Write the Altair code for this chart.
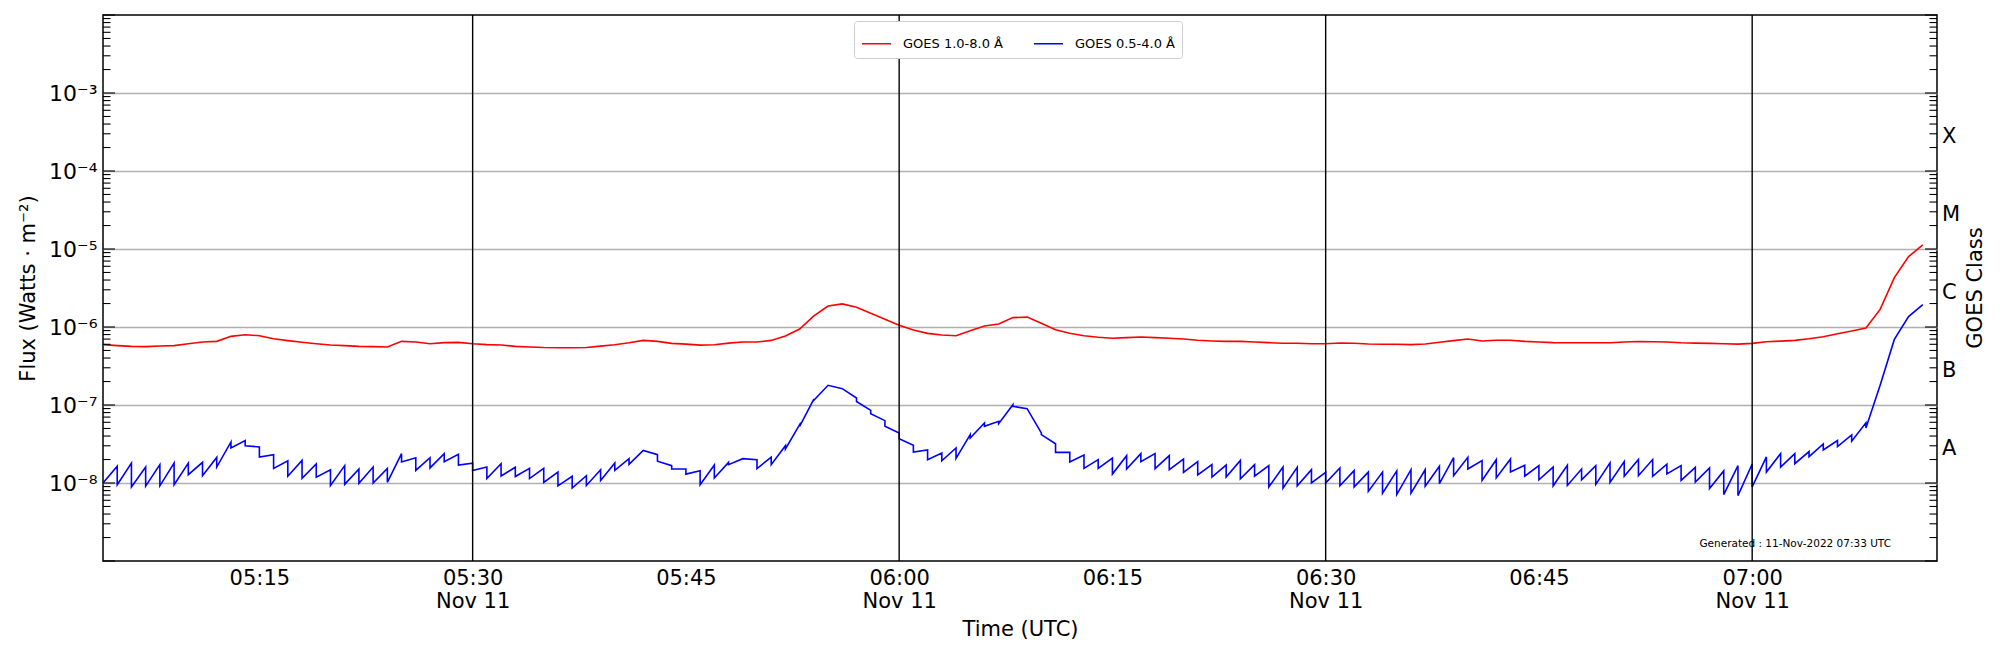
import altair as alt
import pandas as pd

# ---------------- data ----------------
START = "2022-11-11T05:04:00Z"          # first sample, 1-minute cadence

# GOES 1.0-8.0 A flux, units of 1e-7 W/m^2, 05:04 .. 07:12
long_flux_e7 = [
    5.94, 5.77, 5.65, 5.60, 5.71, 5.77, 6.11, 6.43, 6.55, 7.59,
    7.97, 7.74, 7.08, 6.68, 6.36, 6.11, 5.88, 5.77, 5.65, 5.60,
    5.55, 6.55, 6.43, 6.11, 6.30, 6.36, 6.11, 5.94, 5.88, 5.65,
    5.55, 5.45, 5.42, 5.42, 5.47, 5.69, 5.93, 6.28, 6.73, 6.54,
    6.16, 6.04, 5.86, 5.93, 6.22, 6.41, 6.41, 6.73, 7.66, 9.42,
    13.9, 18.6, 19.8, 17.9, 15.0, 12.6, 10.5, 9.14, 8.28, 7.89,
    7.73, 8.97, 10.3, 10.9, 13.2, 13.4, 11.2, 9.24, 8.30, 7.74,
    7.38, 7.16, 7.30, 7.45, 7.30, 7.16, 7.02, 6.75, 6.62, 6.55,
    6.55, 6.43, 6.30, 6.18, 6.18, 6.11, 6.11, 6.24, 6.18, 6.05,
    6.00, 6.00, 5.94, 6.05, 6.36, 6.68, 7.02, 6.62, 6.75, 6.75,
    6.55, 6.43, 6.30, 6.28, 6.28, 6.28, 6.28, 6.41, 6.53, 6.47,
    6.41, 6.28, 6.22, 6.16, 6.10, 6.04, 6.16, 6.47, 6.60, 6.73,
    7.06, 7.49, 8.20, 8.87, 9.69, 16.8, 43.0, 79.8, 112.7,
]

# GOES 0.5-4.0 A flux, units of 1e-8 W/m^2: value reached at each minute
# (top of the saw tooth) and value right after the step down
short_hi_e8 = [
    1.00, 1.64, 1.80, 1.60, 1.72, 1.80, 1.80, 1.84, 2.13, 3.36,
    3.49, 2.90, 2.31, 1.93, 1.95, 1.75, 1.48, 1.67, 1.51, 1.60,
    1.54, 2.38, 2.11, 2.11, 2.38, 2.33, 1.80, 1.60, 1.77, 1.59,
    1.54, 1.54, 1.38, 1.22, 1.24, 1.48, 1.80, 2.05, 2.62, 2.31,
    1.67, 1.51, 1.44, 1.70, 1.84, 2.05, 1.99, 2.15, 3.01, 5.60,
    11.9, 17.9, 16.2, 12.3, 8.54, 6.30, 4.38, 3.04, 2.65, 2.43,
    2.81, 4.17, 5.88, 6.18, 10.1, 8.97, 4.38, 3.19, 2.47, 2.29,
    1.99, 2.09, 2.24, 2.38, 2.38, 2.24, 2.03, 1.88, 1.72, 1.70,
    1.95, 1.72, 1.67, 1.60, 1.59, 1.48, 1.37, 1.56, 1.44, 1.38,
    1.38, 1.43, 1.48, 1.48, 1.64, 2.11, 2.14, 1.94, 1.99, 2.03,
    1.69, 1.67, 1.60, 1.69, 1.51, 1.67, 1.81, 1.88, 2.00, 2.00,
    1.74, 1.67, 1.59, 1.56, 1.43, 1.67, 1.75, 2.16, 2.38, 2.38,
    2.53, 3.17, 3.50, 4.13, 5.90, 17.9, 69.3, 136.0, 193.0,
]
short_lo_e8 = [
    1.00, 0.95, 0.89, 0.91, 0.92, 0.95, 1.28, 1.24, 1.60, 2.81,
    3.01, 2.15, 1.54, 1.22, 1.15, 1.19, 0.93, 0.96, 0.99, 1.00,
    1.02, 1.86, 1.45, 1.56, 1.88, 1.70, 1.45, 1.14, 1.23, 1.21,
    1.14, 1.02, 0.92, 0.86, 0.93, 1.08, 1.45, 1.73, 2.62, 1.90,
    1.51, 1.30, 0.95, 1.16, 1.72, 2.05, 1.53, 1.72, 2.73, 5.33,
    11.5, 17.9, 16.2, 11.1, 7.74, 5.33, 3.70, 2.50, 1.99, 1.93,
    2.07, 3.78, 5.33, 5.77, 9.62, 8.97, 4.17, 2.47, 1.86, 1.54,
    1.54, 1.30, 1.51, 1.88, 1.53, 1.48, 1.37, 1.27, 1.19, 1.19,
    1.13, 1.22, 0.89, 0.86, 0.92, 1.00, 1.00, 0.92, 0.89, 0.78,
    0.74, 0.71, 0.74, 0.91, 0.98, 1.24, 1.51, 1.08, 1.16, 1.38,
    1.22, 1.10, 0.92, 0.93, 1.10, 0.96, 1.02, 1.22, 1.24, 1.22,
    1.31, 1.08, 1.03, 0.85, 0.71, 0.69, 0.89, 1.38, 1.60, 1.77,
    2.18, 2.65, 2.93, 3.43, 5.08, 17.9, 69.3, 136.0, 193.0,
]

series_names = ["GOES 1.0-8.0 Å", "GOES 0.5-4.0 Å"]
series_colors = ["#ff0000", "#0000ff"]

decades = [1e-8, 1e-7, 1e-6, 1e-5, 1e-4, 1e-3]
decade_labels = ["10⁻⁸", "10⁻⁷", "10⁻⁶", "10⁻⁵", "10⁻⁴", "10⁻³"]
all_decades = [1e-9] + decades + [1e-2]

class_letters = ["A", "B", "C", "M", "X"]
class_floor = [1e-8, 1e-7, 1e-6, 1e-5, 1e-4]

half_hours = ["2022-11-11T05:30:00Z", "2022-11-11T06:00:00Z",
              "2022-11-11T06:30:00Z", "2022-11-11T07:00:00Z"]
tick_times = [(5, 15), (5, 30), (5, 45), (6, 0), (6, 15), (6, 30),
              (6, 45), (7, 0)]
x_start = (5, 4)
x_end = (7, 13)

generated_text = "Generated : 11-Nov-2022 07:33 UTC"
x_title = "Time (UTC)"
y_title = "Flux (Watts · m⁻²)"
right_title = "GOES Class"

# ---------------- tables ----------------
times = pd.date_range(START, periods=len(long_flux_e7), freq="min")
tstr = [t.strftime("%Y-%m-%dT%H:%M:%SZ") for t in times]

rows = []
for i, (t, v) in enumerate(zip(tstr, long_flux_e7)):
    rows.append({"time": t, "flux": v * 1e-7, "series": series_names[0], "seq": i})
for i, (t, hi, lo) in enumerate(zip(tstr, short_hi_e8, short_lo_e8)):
    rows.append({"time": t, "flux": hi * 1e-8, "series": series_names[1], "seq": 2 * i})
    rows.append({"time": t, "flux": lo * 1e-8, "series": series_names[1], "seq": 2 * i + 1})
df = pd.DataFrame(rows)

minor_vals = []
for d in all_decades[:-1]:
    for m in range(2, 10):
        minor_vals.append(m * d)
df_major = pd.DataFrame({"val": all_decades})
df_minor = pd.DataFrame({"val": minor_vals})
df_cls = pd.DataFrame({"pos": [f * 10 ** 0.5 for f in class_floor], "cls": class_letters})
df_half = pd.DataFrame({"time": half_hours})

# ---------------- geometry ----------------
W, H = 1834, 546
MAJ, MIN = 12, 7.5
FONT = "DejaVu Sans"
FS = 21


def dt(h, m):
    return alt.DateTime(year=2022, month=11, date=11, hours=h, minutes=m, utc=True)


xscale = alt.Scale(type="utc", domain=[dt(*x_start), dt(*x_end)])
yscale = alt.Scale(type="log", domain=[1e-9, 1e-2], nice=False)

y_label_expr = ""
for d, lab in zip(decades, decade_labels):
    y_label_expr += f"datum.value < {d * 1.5} ? '{lab}' : "
y_label_expr += "''"

x_label_expr = ("utcminutes(datum.value) % 30 == 0 ? "
                "[utcFormat(datum.value, '%H:%M'), utcFormat(datum.value, '%b %d')] : "
                "utcFormat(datum.value, '%H:%M')")

x_axis = alt.Axis(orient="bottom", values=[dt(h, m) for h, m in tick_times],
                  labelExpr=x_label_expr,
                  title=x_title, grid=False, domain=False, ticks=False,
                  labelFontSize=FS, labelPadding=6, labelLineHeight=23,
                  labelColor="black", titleColor="black", titleFontSize=FS,
                  titleFontWeight="normal", titlePadding=7, labelFont=FONT,
                  titleFont=FONT, labelFlush=False)
y_axis = alt.Axis(orient="left", values=decades, labelExpr=y_label_expr, title=y_title,
                  grid=True, gridColor="#b0b0b0", gridWidth=1.5, domain=False,
                  ticks=False, labelFontSize=FS + 1, labelPadding=6, labelColor="black",
                  titleColor="black", titleFontSize=FS, titleFontWeight="normal",
                  titlePadding=10, labelFont=FONT, titleFont=FONT)

lines = alt.Chart(df).mark_line(strokeWidth=1.6, clip=True).encode(
    x=alt.X("time:T", scale=xscale, axis=x_axis),
    y=alt.Y("flux:Q", scale=yscale, axis=y_axis),
    color=alt.Color("series:N",
                    scale=alt.Scale(domain=series_names, range=series_colors),
                    legend=alt.Legend(title=None, orient="none", legendX=751, legendY=6,
                                      direction="horizontal", columns=2,
                                      symbolType="stroke", symbolSize=841,
                                      symbolStrokeWidth=1.5, labelFontSize=13,
                                      labelFont=FONT, labelColor="black",
                                      labelOffset=11, columnPadding=28,
                                      strokeColor="#cccccc", fillColor="white",
                                      cornerRadius=3, padding=7)),
    order=alt.Order("seq:Q"),
)

half_rules = alt.Chart(df_half).mark_rule(color="black", strokeWidth=1.4).encode(
    x=alt.X("time:T", scale=xscale, axis=None)
)


def tick_layer(data, x0, x1):
    return alt.Chart(data).mark_rule(color="black", strokeWidth=1.1).encode(
        y=alt.Y("val:Q", scale=yscale, axis=None),
        x=alt.value(x0), x2=alt.value(x1),
    )


ticks = [
    tick_layer(df_major, 0, MAJ),
    tick_layer(df_minor, 0, MIN),
    tick_layer(df_major, W - MAJ, W),
    tick_layer(df_minor, W - MIN, W),
]

cls_text = alt.Chart(df_cls).mark_text(align="left", baseline="middle", fontSize=FS,
                                       font=FONT, color="black", dy=5).encode(
    x=alt.value(W + 5),
    y=alt.Y("pos:Q", scale=yscale, axis=None),
    text="cls:N",
)

right_t = alt.Chart(pd.DataFrame({"t": [right_title]})).mark_text(
    angle=270, fontSize=FS, font=FONT, color="black", baseline="middle", align="center"
).encode(x=alt.value(W + 39), y=alt.value(H / 2), text="t:N")

gen = alt.Chart(pd.DataFrame({"t": [generated_text]})).mark_text(
    align="right", baseline="middle", fontSize=10.5, font=FONT, color="black"
).encode(x=alt.value(W - 46), y=alt.value(H - 17), text="t:N")

chart = alt.layer(lines, half_rules, *ticks, cls_text, right_t, gen).resolve_axis(
    x="independent", y="independent"
).properties(
    width=W, height=H,
    autosize=alt.AutoSizeParams(type="none"),
    padding={"left": 95, "top": 7, "right": 55, "bottom": 81},
).configure(font=FONT).configure_view(stroke="black", strokeWidth=1.5)

chart.save("out.html", embed_options={"renderer": "svg", "actions": False})
